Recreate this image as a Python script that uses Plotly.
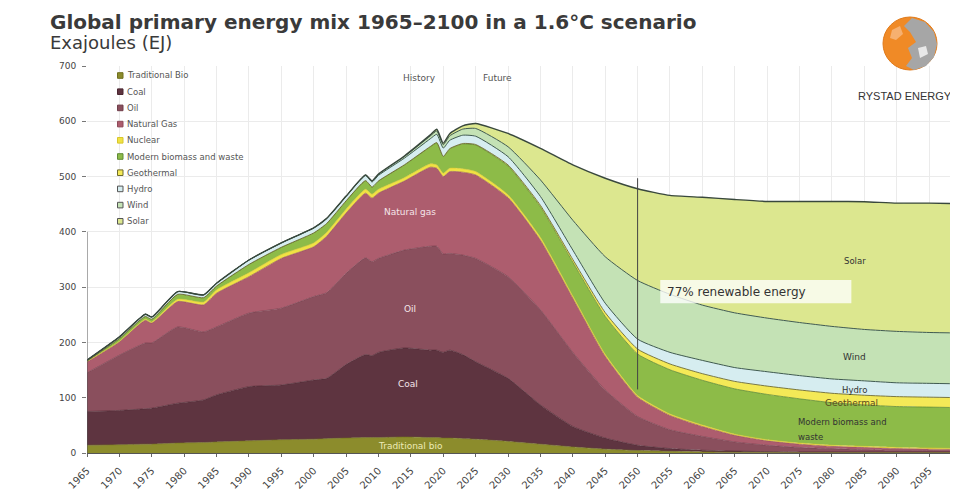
import plotly.graph_objects as go

# ---------------- data (EJ) ----------------
years = [1965, 1970, 1974, 1975, 1979, 1983, 1985, 1990, 1995, 2000, 2002, 2005, 2008, 2009, 2010,
         2014, 2018, 2019, 2020, 2021, 2023, 2025, 2030, 2035, 2040, 2045, 2050, 2055, 2060, 2065,
         2070, 2075, 2080, 2085, 2090, 2095, 2100]

traditional_bio = [14, 15, 16, 16, 18, 19, 20, 22, 24, 25, 26, 27, 28, 28, 28,
                   29, 28, 28, 27, 27, 26, 25, 21, 16, 11, 7, 4.5, 3, 2, 1.5,
                   1.5, 1.5, 1.5, 1.5, 1.5, 1.5, 1.5]
coal = [61, 62, 64, 65, 72, 77, 85, 98, 99, 107, 109, 133, 150, 148, 154,
        161, 158, 158, 155, 159, 152, 140, 114, 71, 37, 20, 9.5, 5, 3, 2,
        1, 0.5, 0.5, 0.5, 0.5, 0.5, 0.5]
oil = [70, 100, 119, 118, 138, 123, 123, 133, 139, 151, 155, 165, 175, 170, 170,
       177, 188, 188, 178, 175, 180, 187, 184, 172, 134, 87, 52, 34, 25, 16.5,
       11.5, 8, 6, 4, 3, 2.5, 2]
natural_gas = [20, 24, 41, 36, 46, 49, 61, 66, 90, 90, 102, 109, 117, 115, 118,
               125, 143, 141, 140, 148, 150, 151, 143, 126, 98, 61, 35, 26, 18, 12,
               8, 6, 4, 4, 3, 2.5, 2]
nuclear = [0.5, 1, 2, 2, 4, 5, 6, 7, 7, 7, 7, 7, 7, 7, 7,
           6, 6, 6, 6, 6, 6, 6, 5, 5, 4, 3.5, 3, 2.5, 2.5, 2,
           2, 2, 2, 2, 2, 2, 2]
modern_biomass = [1, 5, 5, 5, 9, 8, 7, 15, 13, 18, 16, 15, 15.5, 13, 15,
                  23, 31, 40, 30, 35, 45, 48, 52, 55, 61, 68.5, 75, 80, 81, 82,
                  82, 80, 77, 75, 74, 74, 74]
geothermal = [0, 0, 0, 0, 0, 0, 0, 0.1, 0.1, 0.1, 0.1, 0.1, 0.2, 0.2, 0.2,
              0.3, 0.4, 0.5, 0.5, 0.6, 0.8, 1, 2, 3, 5, 7, 9, 10.5, 12, 13.5,
              15, 16, 17, 17.5, 18, 18, 18]
hydro = [1.5, 3, 4, 4, 5, 5, 5, 8, 8, 9, 9, 8, 9, 9, 10,
         12, 14, 15, 15, 15, 15, 15, 15, 16, 17, 17, 18, 21, 24, 25,
         26, 26, 26, 26, 25, 25, 25]
wind = [0, 0, 0, 0, 0, 0, 0, 0, 0, 0.2, 0.3, 0.5, 1, 1.5, 2,
        3, 5, 6, 6, 8, 11, 14, 18, 30, 54, 84, 106, 105, 100, 99,
        97, 96, 95, 93, 93, 92, 92]
solar = [0, 0, 0, 0, 0, 0, 0, 0, 0, 0, 0, 0.1, 0.3, 0.5, 0.6,
         1, 2, 3, 3, 4, 6, 9, 24, 57, 100, 142, 166, 179, 195, 205,
         211, 219, 226, 231, 232, 234, 234]

legend_names = ["Traditional Bio", "Coal", "Oil", "Natural Gas", "Nuclear",
                "Modern biomass and waste", "Geothermal", "Hydro", "Wind", "Solar"]
x_ticks = list(range(1965, 2100, 5))
y_ticks = [0, 100, 200, 300, 400, 500, 600, 700]

series = [traditional_bio, coal, oil, natural_gas, nuclear, modern_biomass,
          geothermal, hydro, wind, solar]
fills = ["#8c8c2c", "#5e3440", "#8a4f5d", "#ad5d6e", "#f0e244", "#8dbb48",
         "#f4e957", "#d6edf0", "#c4e2b5", "#dce78f"]
edges = ["#70701f", "#4a2731", "#6f3d49", "#8e4a59", "#d8c62c", "#5f8a35",
         "#6d6a2e", "#3f5a50", "#3f5a50", "#39483d"]
widths = [0.6, 0.6, 0.6, 0.6, 0.6, 0.8, 0.9, 1.0, 1.0, 1.4]

fig = go.Figure()
for name, vals, fc, ec, lw in zip(legend_names, series, fills, edges, widths):
    fig.add_trace(go.Scatter(
        x=years, y=vals, name=name, stackgroup="one", mode="lines",
        line=dict(color=ec, width=lw, shape="spline", smoothing=0.5),
        fillcolor=fc, showlegend=False, hoverinfo="x+y+name"))

# ---------------- geometry helpers (reference pixel -> paper) ----------------
OFF = 8  # page body margin of the browser
FW, FH = 958 - OFF, 502 - OFF
L, R, T, B = 87, 955, 66, 453          # plot area in reference pixels
def pxx(v):
    return (v - L) / (R - L)
def pxy(v):
    return (B - v) / (B - T)

shapes = []
annotations = []

# y axis line (only 0-400 as in reference)
shapes.append(dict(type="line", xref="x", yref="y", x0=1965, x1=1965, y0=0, y1=400,
                   line=dict(color="#555555", width=1)))
# 2050 marker line
shapes.append(dict(type="line", xref="x", yref="y", x0=2050, x1=2050, y0=115, y1=497,
                   line=dict(color="#444444", width=1)))
# 77% renewable box
shapes.append(dict(type="rect", xref="x", yref="y", x0=2053.5, x1=2083, y0=271, y1=313,
                   fillcolor="rgba(255,255,255,0.78)", line=dict(width=0)))
annotations.append(dict(x=2054.3, y=292, xref="x", yref="y", text="77% renewable energy",
                        showarrow=False, xanchor="left", yanchor="middle",
                        font=dict(size=12, color="#333333", family="DejaVu Sans")))

# custom legend
for i, (name, fc, ec) in enumerate(zip(legend_names, fills, edges)):
    yc = 75.5 + i * 16.2
    edge = "#555555" if i >= 7 else ec
    shapes.append(dict(type="rect", xref="paper", yref="paper",
                       x0=pxx(117.5), x1=pxx(123), y0=pxy(yc + 2.8), y1=pxy(yc - 2.8),
                       fillcolor=fc, line=dict(color=edge, width=1)))
    annotations.append(dict(x=pxx(124.5), y=pxy(yc), xref="paper", yref="paper", text=name,
                            showarrow=False, xanchor="left", yanchor="middle",
                            font=dict(size=8.5, color="#555555", family="DejaVu Sans")))

# in-chart labels
def lab(x, y, text, color, size=9, anchor="center"):
    annotations.append(dict(x=x, y=y, xref="x", yref="y", text=text, showarrow=False,
                            xanchor=anchor, yanchor="middle",
                            font=dict(size=size, color=color, family="DejaVu Sans")))

lab(2016.4, 678, "History", "#555555")
lab(2028.4, 678, "Future", "#555555")
lab(2014.8, 436, "Natural gas", "#f4e4e8")
lab(2014.8, 260, "Oil", "#f4e4e8")
lab(2014.5, 125, "Coal", "#f4e4e8")
lab(2015.0, 13, "Traditional bio", "#ecebb8")
lab(2083.5, 347, "Solar", "#333333", 8.5)
lab(2083.5, 173, "Wind", "#333333", 9)
lab(2083.5, 114, "Hydro", "#333333", 8.5)
lab(2083.0, 91, "Geothermal", "#5a4a1e", 9)
lab(2074.5, 56, "Modern biomass and", "#333333", 8.5, "left")
lab(2074.5, 29, "waste", "#333333", 8.5, "left")

# title and subtitle
annotations.append(dict(x=pxx(48), y=pxy(22), xref="paper", yref="paper",
                        text="<b>Global primary energy mix 1965–2100 in a 1.6°C scenario</b>",
                        showarrow=False, xanchor="left", yanchor="middle",
                        font=dict(size=20, color="#3a3a3a", family="DejaVu Sans")))
annotations.append(dict(x=pxx(48), y=pxy(43), xref="paper", yref="paper",
                        text="Exajoules (EJ)", showarrow=False, xanchor="left", yanchor="middle",
                        font=dict(size=18, color="#3a3a3a", family="DejaVu Sans")))

# logo
shapes.append(dict(type="circle", xref="paper", yref="paper",
                   x0=pxx(883), x1=pxx(937), y0=pxy(70), y1=pxy(17),
                   fillcolor="#f08a26", line=dict(color="#e07a1a", width=1)))
def ppath(points):
    return "M " + " L ".join(f"{pxx(a):.5f},{pxy(b):.5f}" for a, b in points) + " Z"
shapes.append(dict(type="path", xref="paper", yref="paper",
                   path=ppath([(912, 18), (925, 22), (934, 32), (937, 44), (934, 57), (926, 66),
                               (914, 70), (906, 66), (912, 58), (908, 48), (916, 42), (910, 32),
                               (904, 26)]),
                   fillcolor="#a6a6a6", line=dict(width=0)))
shapes.append(dict(type="path", xref="paper", yref="paper",
                   path=ppath([(892, 30), (900, 26), (903, 34), (896, 40), (890, 38)]),
                   fillcolor="#f6b070", line=dict(width=0)))
shapes.append(dict(type="path", xref="paper", yref="paper",
                   path=ppath([(918, 48), (926, 46), (928, 54), (920, 58)]),
                   fillcolor="#e8e8e8", line=dict(width=0)))
annotations.append(dict(x=pxx(905), y=pxy(96), xref="paper", yref="paper",
                        text="RYSTAD ENERGY", showarrow=False, xanchor="center", yanchor="middle",
                        font=dict(size=11, color="#333333", family="Liberation Sans")))

fig.update_layout(
    width=FW, height=FH,
    margin=dict(l=L - OFF, r=958 - R, t=T - OFF, b=502 - B, autoexpand=False),
    paper_bgcolor="white", plot_bgcolor="white",
    showlegend=False,
    shapes=shapes, annotations=annotations,
    font=dict(family="DejaVu Sans", size=9, color="#444444"),
    xaxis=dict(range=[1965, 2099], tickvals=x_ticks, ticktext=[str(v) for v in x_ticks],
               tickangle=-45, ticks="outside", ticklen=3, tickcolor="#666666",
               ticklabelstandoff=4,
               showline=True, linecolor="#555555", linewidth=1,
               showgrid=True, gridcolor="#ebebeb", gridwidth=1, zeroline=False,
               tickfont=dict(size=10, color="#444444")),
    yaxis=dict(range=[0, 700], tickvals=y_ticks, ticks="outside", ticklen=4,
               tickcolor="#777777", showline=False, ticklabelstandoff=4,
               showgrid=True, gridcolor="#ebebeb", gridwidth=1, zeroline=False,
               tickfont=dict(size=9, color="#444444")),
)

fig.write_html("out.html")
